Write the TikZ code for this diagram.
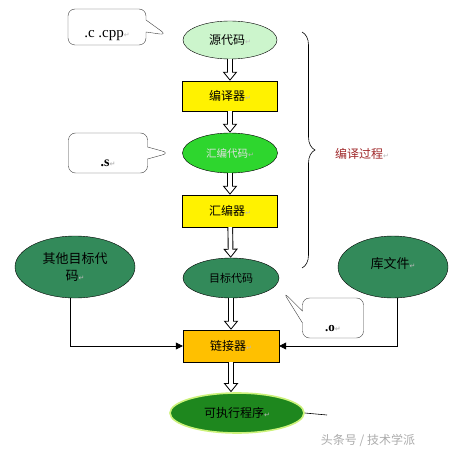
\documentclass[tikz,border=0pt]{standalone}
\usepackage{fontspec}
\setmainfont{Liberation Serif}
\newfontfamily\cjk{Noto Sans CJK SC}
\newfontfamily\symb{DejaVu Sans}
\usetikzlibrary{shapes.geometric,shapes.callouts,arrows.meta,decorations.pathreplacing,calc}
\definecolor{srcgreen}{HTML}{CCF5CC}
\definecolor{asmgreen}{HTML}{2ED62E}
\definecolor{objgreen}{HTML}{338A5A}
\definecolor{exegreen}{HTML}{1E871E}
\definecolor{exeglow}{HTML}{CCF27A}
\definecolor{linkorange}{HTML}{FFC000}
\definecolor{bracered}{HTML}{A0282A}
\newcommand{\pmark}{{\symb\color{gray!55}\fontsize{7}{7}\selectfont ↵}}
\newcommand{\lowtext}[2]{\raisebox{-#1}[0pt][0pt]{#2}}
\tikzset{
  cjktext/.style={font=\cjk\fontsize{12}{14}\selectfont},
  ell/.style={ellipse, draw, inner sep=0pt, cjktext, align=center},
  box/.style={rectangle, draw, inner sep=0pt, minimum width=95pt, minimum height=30pt, cjktext},
  note/.style={rectangle callout, draw=black!75, rounded corners=7pt, fill=white,
    callout pointer width=12pt, inner sep=0pt},
  hollow/.style={line width=5.6pt, -{Triangle[length=9pt,width=14pt]},
    postaction={draw=white, line width=3.8pt, shorten >=1.5pt,
      -{Triangle[length=6.6pt,width=10pt]}}},
  feed/.style={line width=0.6pt, -{Triangle[length=7pt,width=7pt]}}
}
\begin{document}
\begin{tikzpicture}[x=1pt,y=1pt]
  \useasboundingbox[fill=white] (0,0) rectangle (463,456);

  % compile chain
  \node[ell, fill=srcgreen, minimum width=94pt, minimum height=38pt] (src) at (230,416) {源代码\pmark};
  \node[box, fill=yellow] (comp) at (230,360) {编译器\pmark};
  \node[ell, fill=asmgreen, minimum width=95pt, minimum height=40pt,
        font=\cjk\fontsize{10.5}{12}\selectfont, text=white!88!black] (asm) at (230,303) {汇编代码\pmark};
  \node[box, fill=yellow, minimum height=32pt] (asmr) at (230,245) {汇编器\pmark};
  \node[ell, fill=objgreen, minimum width=96pt, minimum height=40pt,
        font=\cjk\fontsize{11}{13}\selectfont] (obj) at (231,178) {目标代码};

  % link stage
  \node[ell, fill=objgreen, minimum width=120pt, minimum height=62pt,
        font=\cjk\fontsize{13}{17}\selectfont] (other) at (75,189) {其他目标代\\码\pmark};
  \node[ell, fill=objgreen, minimum width=110pt, minimum height=62pt,
        font=\cjk\fontsize{13}{17}\selectfont] (lib) at (393,189) {\raisebox{8pt}{库文件\pmark}};
  \node[box, fill=linkorange, minimum width=96pt, minimum height=32pt] (link) at (231,110) {链接器\pmark};
  \node[ell, fill=exegreen, draw=exeglow, line width=1.6pt, minimum width=134pt, minimum height=40pt] (exe) at (237,43) {可执行程序\pmark};
  \coordinate (exetail) at (327,41);

  % notes
  \node[note, minimum width=78pt, minimum height=36pt, font=\fontsize{15}{17}\selectfont,
        callout absolute pointer={($(src.west)+(-16,5)$)}] (cnote) at (107,429) {\lowtext{11pt}{.c .cpp\pmark}};
  \node[note, minimum width=79pt, minimum height=40pt, font=\bfseries\fontsize{14}{16}\selectfont,
        callout absolute pointer={($(asm.west)+(-13,0)$)}] (snote) at (108,303) {\lowtext{13pt}{.s\pmark}};
  \node[note, minimum width=61pt, minimum height=40pt, font=\bfseries\fontsize{13}{15}\selectfont,
        callout absolute pointer={($(obj.east)+(4,-14)$)}] (onote) at (333,138) {\lowtext{13pt}{.o\pmark}};

  % brace and label
  \coordinate (btop) at (302,424);
  \coordinate (bbot) at (302,188);
  \draw[line width=0.6pt, decorate, decoration={brace, amplitude=13pt}] (btop) -- (bbot);
  \node[font=\cjk\fontsize{12}{14}\selectfont, text=bracered] (stage) at (362,302) {编译过程\pmark};

  % arrows
  \draw[hollow] (src) -- (comp);
  \draw[hollow] (comp) -- (asm);
  \draw[hollow] (asm) -- (asmr);
  \draw[hollow] (asmr) -- (obj);
  \draw[hollow] (obj) -- (link);
  \draw[hollow] (link.south) -- (link.south |- exe.north);
  \draw[feed] ([xshift=-5pt]other.south) |- (link.west);
  \draw[feed] ([xshift=4pt]lib.south) |- (link.east);
  \draw[line width=0.6pt] (exe.east) -- (exetail);

  \node[font=\cjk\fontsize{12}{14}\selectfont, text=gray!65] (mark) at (368,16) {头条号 / 技术学派};
\end{tikzpicture}
\end{document}
